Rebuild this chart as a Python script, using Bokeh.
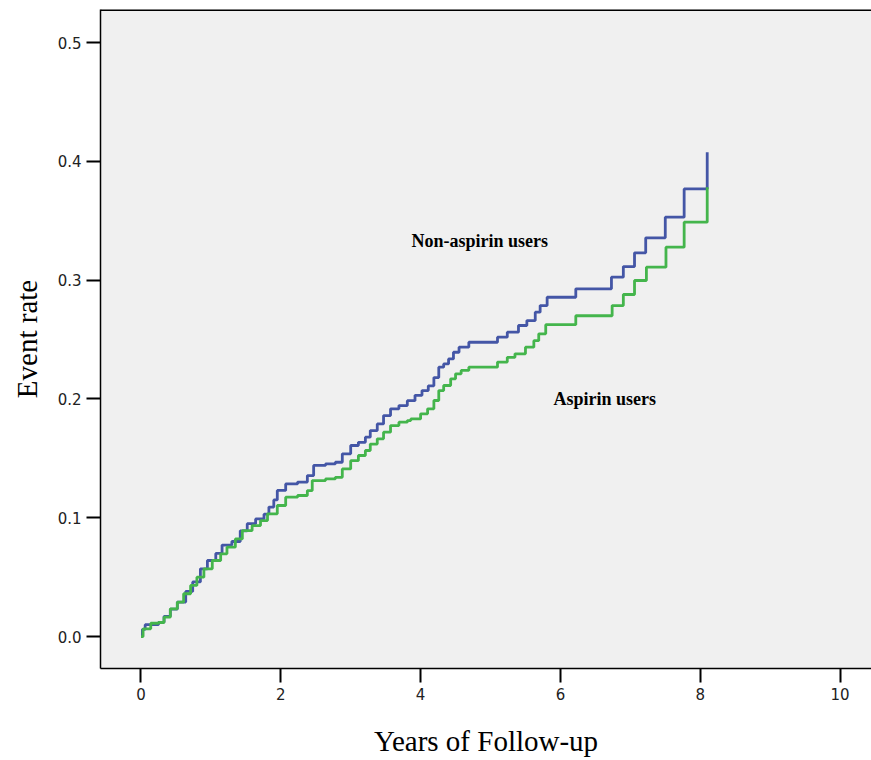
from bokeh.plotting import figure
from bokeh.models import Range1d, FixedTicker, Span, Label, CustomJSTickFormatter
from bokeh.embed import file_html
from bokeh.resources import INLINE

# Non-aspirin users (step change points: years, cumulative event rate)
non_t = [0.0, 0.02, 0.06, 0.25, 0.33, 0.42, 0.52, 0.64, 0.74, 0.85, 0.95, 1.07, 1.16, 1.30,
         1.42, 1.52, 1.64, 1.76, 1.83, 1.90, 1.95, 2.07, 2.24, 2.38, 2.47, 2.64, 2.78, 2.88,
         3.00, 3.11, 3.21, 3.28, 3.38, 3.47, 3.57, 3.69, 3.81, 3.92, 4.02, 4.11, 4.19, 4.26,
         4.33, 4.40, 4.47, 4.55, 4.69, 5.10, 5.24, 5.40, 5.52, 5.64, 5.71, 5.81, 6.22, 6.73,
         6.90, 7.06, 7.22, 7.50, 7.77, 8.10]
non_y = [0.0, 0.006, 0.010, 0.012, 0.017, 0.023, 0.029, 0.038, 0.046, 0.057, 0.064, 0.070,
         0.077, 0.080, 0.089, 0.095, 0.099, 0.103, 0.109, 0.115, 0.123, 0.1285, 0.130, 0.1355,
         0.144, 0.1453, 0.1467, 0.1538, 0.1608, 0.1635, 0.1678, 0.1734, 0.179, 0.186, 0.1917,
         0.1944, 0.1985, 0.203, 0.207, 0.211, 0.218, 0.2267, 0.2295, 0.2337, 0.2393, 0.2436,
         0.2477, 0.252, 0.2562, 0.2618, 0.266, 0.273, 0.2786, 0.2856, 0.2927, 0.3025, 0.3114,
         0.323, 0.3356, 0.353, 0.3768, 0.4077]

# Aspirin users
asp_t = [0.0, 0.03, 0.14, 0.25, 0.33, 0.42, 0.52, 0.61, 0.71, 0.80, 0.90, 1.02, 1.14, 1.23,
         1.35, 1.45, 1.59, 1.71, 1.81, 1.95, 2.07, 2.24, 2.38, 2.45, 2.64, 2.78, 2.88, 3.00,
         3.11, 3.21, 3.28, 3.38, 3.47, 3.57, 3.69, 3.81, 3.86, 4.00, 4.10, 4.19, 4.26, 4.33,
         4.43, 4.50, 4.58, 4.69, 5.10, 5.24, 5.35, 5.50, 5.62, 5.69, 5.79, 6.22, 6.74, 6.90,
         7.06, 7.23, 7.51, 7.77, 8.10]
asp_y = [0.0, 0.0065, 0.0112, 0.0118, 0.0163, 0.0233, 0.0289, 0.036, 0.043, 0.050, 0.057,
         0.064, 0.0696, 0.0752, 0.0822, 0.0892, 0.0934, 0.0976, 0.1033, 0.1103, 0.1173, 0.1187,
         0.1229, 0.1313, 0.1327, 0.134, 0.1411, 0.148, 0.1524, 0.1566, 0.162, 0.1664, 0.172,
         0.1776, 0.1804, 0.1818, 0.1832, 0.1875, 0.1917, 0.1987, 0.207, 0.2113, 0.2169, 0.2211,
         0.224, 0.2267, 0.231, 0.235, 0.238, 0.2436, 0.249, 0.2548, 0.2625, 0.270, 0.2786,
         0.2879, 0.2997, 0.3109, 0.3277, 0.3488, 0.3782]

x_ticks = [0, 2, 4, 6, 8, 10]
y_ticks = [0.0, 0.1, 0.2, 0.3, 0.4, 0.5]
x_title = "Years of Follow-up"
y_title = "Event rate"
label_non = "Non-aspirin users"
label_asp = "Aspirin users"

X0, X1 = -0.579, 10.45
Y0, Y1 = -0.0269, 0.5278

p = figure(width=871, height=760, output_backend="svg", toolbar_location=None,
           x_range=Range1d(X0, X1), y_range=Range1d(Y0, Y1),
           min_border_left=100, min_border_right=0, min_border_top=9, min_border_bottom=92)

p.background_fill_color = "#f0f0f0"
p.border_fill_color = "white"
p.outline_line_color = None
p.grid.visible = False

for ax in (p.xaxis[0], p.yaxis[0]):
    ax.axis_line_color = "black"
    ax.axis_line_width = 1.5
    ax.major_tick_line_color = "black"
    ax.major_tick_line_width = 2
    ax.major_tick_in = 0
    ax.major_tick_out = 14
    ax.minor_tick_line_color = None
    ax.major_label_text_font = "DejaVu Sans"
    ax.major_label_text_font_size = "15px"
    ax.major_label_text_color = "#222222"
    ax.axis_label_text_font = "Liberation Serif"
    ax.axis_label_text_font_size = "29px"
    ax.axis_label_text_font_style = "normal"
    ax.axis_label_text_color = "black"

p.xaxis.ticker = FixedTicker(ticks=x_ticks)
p.yaxis.ticker = FixedTicker(ticks=y_ticks)
p.yaxis.formatter = CustomJSTickFormatter(code="return tick.toFixed(1);")
p.xaxis.major_label_standoff = 5
p.yaxis.major_label_standoff = 5
p.xaxis.axis_label = x_title
p.yaxis.axis_label = y_title
p.xaxis.axis_label_standoff = 22
p.yaxis.axis_label_standoff = 12

top = Span(location=Y1, dimension="width", line_color="black", line_width=3)
p.add_layout(top)

p.step(non_t, non_y, mode="after", line_color="#4456a6", line_width=2.8)
p.step(asp_t, asp_y, mode="after", line_color="#44b54c", line_width=2.8)

p.add_layout(Label(x=3.87, y=0.333, text=label_non, text_font="Liberation Serif",
                   text_font_style="bold", text_font_size="18px", text_baseline="middle",
                   text_color="black"))
p.add_layout(Label(x=5.90, y=0.2003, text=label_asp, text_font="Liberation Serif",
                   text_font_style="bold", text_font_size="18px", text_baseline="middle",
                   text_color="black"))

open("out.html", "w").write(file_html(p, INLINE))
